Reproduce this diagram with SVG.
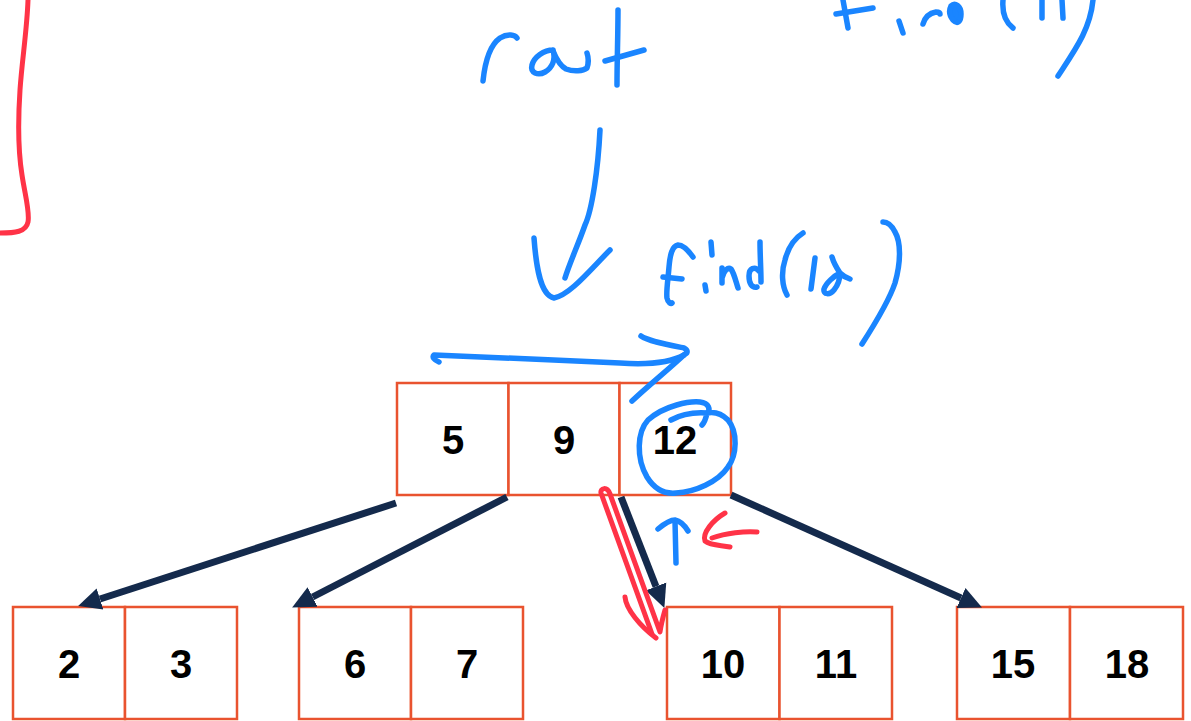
<svg xmlns="http://www.w3.org/2000/svg" width="1191" height="721" viewBox="0 0 1191 721">
  <style>
    .cell { fill: #ffffff; stroke: #E9532F; stroke-width: 2.5; }
    .key { font-family: "Liberation Sans", Arial, sans-serif; font-weight: bold; font-size: 40px; fill: #000000; text-anchor: middle; }
    .edge { stroke: #142A4C; stroke-width: 7; fill: none; marker-end: url(#head); }
    .ink-blue { stroke: #1A85FF; stroke-width: 5.5; fill: none; stroke-linecap: round; stroke-linejoin: round; }
    .ink-red { stroke: #FF3347; stroke-width: 5; fill: none; stroke-linecap: round; stroke-linejoin: round; }
  </style>
  <defs>
    <marker id="head" markerUnits="userSpaceOnUse" markerWidth="26" markerHeight="26" viewBox="0 -13 26 26" refX="0" refY="0" orient="auto">
      <path d="M0,-11 L23,0 L0,11 Z" fill="#142A4C"/>
    </marker>
  </defs>

  <rect width="1191" height="721" fill="#ffffff"/>

  <!-- root node -->
  <g id="node-root">
    <rect class="cell" x="397" y="383" width="111.5" height="112"/>
    <rect class="cell" x="508.5" y="383" width="111" height="112"/>
    <rect class="cell" x="619.5" y="383" width="111.5" height="112"/>
    <text class="key" x="453" y="453.5">5</text>
    <text class="key" x="564" y="453.5">9</text>
    <text class="key" x="675" y="453.5">12</text>
  </g>

  <!-- leaf nodes -->
  <g id="node-2-3">
    <rect class="cell" x="13" y="607" width="112" height="112"/>
    <rect class="cell" x="125" y="607" width="112" height="112"/>
    <text class="key" x="69" y="677.5">2</text>
    <text class="key" x="181" y="677.5">3</text>
  </g>
  <g id="node-6-7">
    <rect class="cell" x="299" y="607" width="112" height="112"/>
    <rect class="cell" x="411" y="607" width="112" height="112"/>
    <text class="key" x="355" y="677.5">6</text>
    <text class="key" x="467" y="677.5">7</text>
  </g>
  <g id="node-10-11">
    <rect class="cell" x="667" y="607" width="112.5" height="112"/>
    <rect class="cell" x="779.5" y="607" width="112.5" height="112"/>
    <text class="key" x="723" y="677.5">10</text>
    <text class="key" x="836" y="677.5">11</text>
  </g>
  <g id="node-15-18">
    <rect class="cell" x="957" y="607" width="113" height="112"/>
    <rect class="cell" x="1070" y="607" width="113" height="112"/>
    <text class="key" x="1013" y="677.5">15</text>
    <text class="key" x="1127" y="677.5">18</text>
  </g>

  <!-- child pointers -->
  <g id="connectors">
    <line class="edge" x1="396" y1="503" x2="100" y2="599"/>
    <line class="edge" x1="507" y1="497" x2="312.6" y2="597"/>
    <line class="edge" x1="621" y1="497" x2="656" y2="586.5"/>
    <line class="edge" x1="731" y1="495" x2="961" y2="598"/>
  </g>

  <!-- handwritten annotations: blue -->
  <g id="notes-blue" class="ink-blue">
    <!-- root -->
    <path d="M483,81 C485,62 490,45 500,38 C508,33 515,35 517,38"/>
    <path d="M553,50 C544,50 534,57 532,65 C530,73 538,76 545,72 C552,68 556,60 553,50"/>
    <path d="M553,51 C556,58 560,66 566,69 C574,72 583,71 587,68 C589,62 588,56 587,53"/>
    <path d="M618,10 C618,35 617,60 617,85"/>
    <path d="M605,61 L644,50"/>
    <!-- find(11) at the top edge -->
    <path d="M843,0 L848,28"/>
    <path d="M836,14 L873,8"/>
    <path d="M899,21 L903,33"/>
    <path d="M923,24 C925,17 930,13 936,12 C939,12 940,13 940,14"/>
    <path d="M951,6 C955,2 961,6 961,14 C961,21 958,25 953,20 C949,15 949,10 951,6 Z" fill="#1A85FF"/>
    <path d="M1013,28 C1005,22 1002,12 1003,0"/>
    <path d="M1042,0 L1042,18"/>
    <path d="M1062,0 L1063,18"/>
    <path d="M1093,0 C1090,30 1075,50 1058,76"/>
    <!-- arrow from root down -->
    <path d="M600,130 C598,170 592,210 585,225 C578,245 570,262 565,278"/>
    <path d="M534,238 C536,265 540,295 554,298 C570,295 590,270 610,250"/>
    <!-- find(12 -->
    <path d="M693,257 C688,250 682,245 678,245 C672,246 670,255 669,267 C668,280 666,292 667,298 C668,303 671,304 672,303"/>
    <path d="M663,277 L682,279"/>
    <path d="M711,242 L712,255"/>
    <path d="M705,285 L706,291"/>
    <path d="M722,268 L722,283 M722,278 C724,270 728,267 731,269 C734,273 736,282 738,288"/>
    <path d="M759,271 C755,266 749,268 749,276 C749,284 752,288 757,287 M760,242 C760,255 761,270 761,282"/>
    <path d="M803,233 C795,238 788,248 785,260 C781,272 782,286 787,295"/>
    <path d="M815,258 L811,289"/>
    <path d="M832,257 C834,264 838,270 840,273 C843,276 847,278 850,279 M840,273 C834,276 826,283 824,289 C823,295 830,295 834,290 C838,285 840,279 840,273"/>
    <path d="M883,222 C888,222 892,226 895,232 C901,242 901,262 895,283 C890,298 880,316 862,344"/>
    <!-- sweep over the root node -->
    <path d="M439,362 C434,360 432,357 434,355 C480,357 560,360 620,363 C650,365 670,363 684,355"/>
    <path d="M641,336 C648,341 664,344 684,348 C688,350 688,353 685,354 C668,370 650,384 632,401"/>
    <!-- circle on 12 -->
    <path d="M671,420 C680,415 693,412 707,413 C711,410 709,403 700,402 C690,401 665,405 648,420 C637,432 636,458 647,477 C655,490 666,494 676,493 C695,492 718,482 728,467 C737,455 738,432 728,420 C720,412 712,412 707,413 C706,418 704,423 702,425"/>
    <!-- up arrow -->
    <path d="M675,521 L676,563"/>
    <path d="M658,529 C664,524 670,520 675,520 C680,521 685,526 688,531"/>
  </g>

  <!-- handwritten annotations: red -->
  <g id="notes-red" class="ink-red">
    <path d="M28,0 C27,30 22,60 20,90 C18,120 18,150 22,175 C25,195 30,212 28,222 C26,232 15,233 0,233"/>
    <path d="M652,634 L601,493 C600,488 607,486 610,494 L660,632 C661,625 663,617 665,610"/>
    <path d="M625,597 C626,609 640,626 656,638"/>
    <path d="M725,513 C713,520 702,533 705,541 C711,546 722,545 730,547"/>
    <path d="M757,532 C745,531 726,533 712,538"/>
  </g>
</svg>
